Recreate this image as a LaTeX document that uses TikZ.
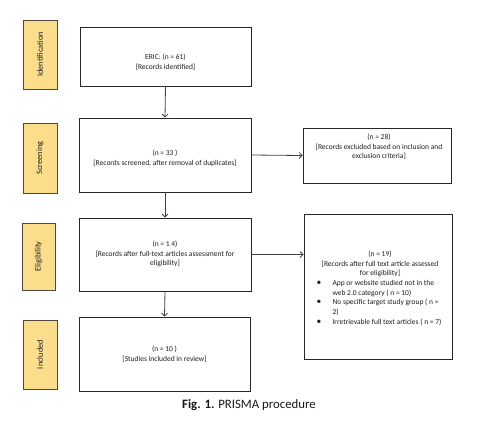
\documentclass[tikz,border=0pt]{standalone}
\usepackage{fontspec}
\setmainfont{Carlito}
\usetikzlibrary{arrows.meta}
\definecolor{phase}{RGB}{251,221,140}
\definecolor{phaseline}{RGB}{80,72,60}
\definecolor{txt}{RGB}{30,30,30}
\begin{document}
\begin{tikzpicture}[x=1pt,y=-1pt,
  phasebox/.style={draw=phaseline,line width=0.9pt,fill=phase,inner sep=0pt},
  phasetext/.style={rotate=90,text=txt,font=\fontsize{8.3}{9}\selectfont},
  mainbox/.style={draw=black!85,line width=0.8pt,fill=white,inner sep=0pt},
  boxtext/.style={text=txt,font=\fontsize{7.5}{9.7}\selectfont,align=center,inner sep=0pt},
  arr/.style={draw=black!75,line width=0.8pt,-{Straight Barb[length=3pt,width=6pt]}}
]
\useasboundingbox[fill=white] (0,0) rectangle (478,442);
% phase labels
\node[phasebox,minimum width=34pt,minimum height=69pt] (id) at (40,54.5) {};
\node[phasetext] (idt) at (id.center) {Identification};
\node[phasebox,minimum width=34pt,minimum height=70pt] (scr) at (40,158) {};
\node[phasetext] (scrt) at (scr.center) {Screening};
\node[phasebox,minimum width=33pt,minimum height=67pt] (eli) at (38.5,256.5) {};
\node[phasetext] (elit) at (eli.center) {Eligibility};
\node[phasebox,minimum width=34pt,minimum height=69pt] (inc) at (40,354.5) {};
\node[phasetext] (inct) at (inc.center) {Included};
% main boxes
\node[mainbox,minimum width=171pt,minimum height=59pt] (b1) at (165.5,56.5) {};
\node[boxtext] (b1t) at (165.5,62) {ERIC: (n = 61)\\\relax[Records identified]};
\node[mainbox,minimum width=172pt,minimum height=74pt] (b2) at (165,155) {};
\node[boxtext] (b2t) at (165,158.5) {(n = 33 )\\\relax[Records screened, after removal of duplicates]};
\node[mainbox,minimum width=172pt,minimum height=73pt] (b3) at (165,254.5) {};
\node[boxtext] (b3t) at (165,254) {(n = 1 4)\\\relax[Records after full-text articles assessment for\\eligibility]};
\node[mainbox,minimum width=171pt,minimum height=74pt] (b4) at (164.5,354) {};
\node[boxtext] (b4t) at (164.5,354) {(n = 10 )\\\relax[Studies included in review]};
% right boxes
\node[mainbox,minimum width=148pt,minimum height=55pt] (bA) at (377,155.5) {};
\node[boxtext] (bAt) at (379,147) {(n = 28)\\\relax[Records excluded based on inclusion and\\exclusion criteria]};
\node[mainbox,minimum width=148pt,minimum height=145pt] (bB) at (378,286.5) {};
\node[boxtext] (bBt) at (380,288.5) {%
\renewcommand{\arraystretch}{1}%
\begin{tabular}{@{}p{14pt}@{}l@{}}
\multicolumn{2}{@{}c@{}}{(n = 19)}\\
\multicolumn{2}{@{}c@{}}{[Records after full text article assessed}\\
\multicolumn{2}{@{}c@{}}{for eligibility]}\\
\hspace*{-2pt}{\fontsize{9.5}{9}\selectfont\textbullet} & App or website studied not in the\\
 & web 2.0 category ( n = 10)\\
\hspace*{-2pt}{\fontsize{9.5}{9}\selectfont\textbullet} & No specific target study group ( n =\\
 & 2)\\
\hspace*{-2pt}{\fontsize{9.5}{9}\selectfont\textbullet} & Irretrievable full text articles ( n = 7)
\end{tabular}};
% connectors
\draw[arr] (b1.south) -- (b2.north);
\draw[arr] (b2.south) -- (b3.north);
\draw[arr] (b3.south) -- (b4.north);
\draw[arr] (b2.east) -- (bA.west);
\draw[arr] (b3.east) -- (b3.east -| bB.west);
% caption
\node[text=black!90,font=\fontsize{12.8}{14}\selectfont] (cap) at (249,405) {\textbf{Fig. 1.} PRISMA procedure};
\end{tikzpicture}
\end{document}
